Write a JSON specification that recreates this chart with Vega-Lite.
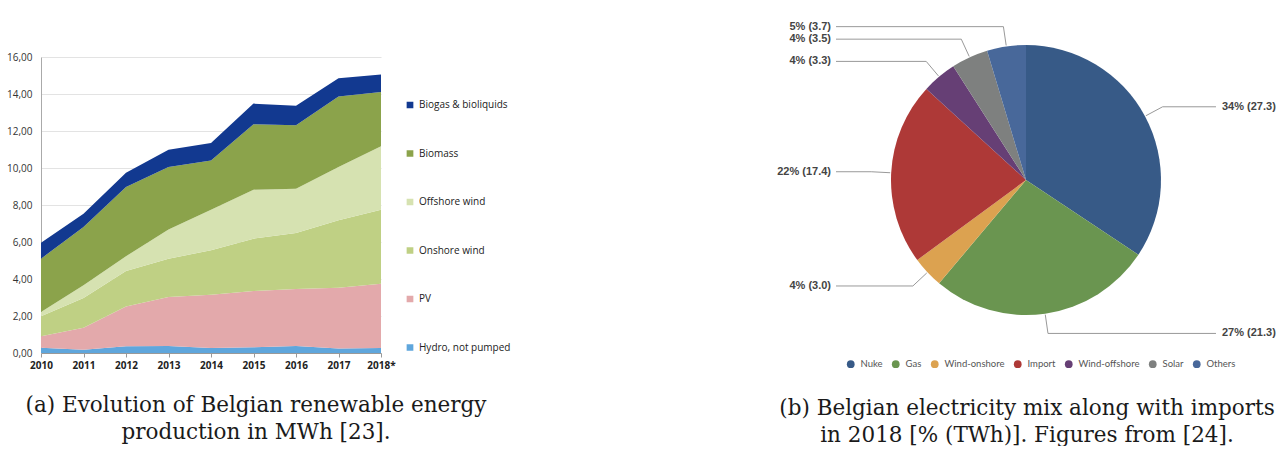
{
  "$schema": "https://vega.github.io/schema/vega-lite/v6.json",
  "padding": {"left": 6, "top": 20, "right": 0, "bottom": 0},
  "bounds": "flush",
  "spacing": 445,
  "resolve": {"scale": {"color": "independent"}, "legend": {"color": "independent"}},
  "config": {"view": {"stroke": null}, "font": "Open Sans"},
  "hconcat": [
    {
      "width": 340,
      "height": 296,
      "data": {"values": [
        {"year": "2010", "src": "Hydro, not pumped", "v": 0.29, "k": 1},
        {"year": "2011", "src": "Hydro, not pumped", "v": 0.18, "k": 1},
        {"year": "2012", "src": "Hydro, not pumped", "v": 0.36, "k": 1},
        {"year": "2013", "src": "Hydro, not pumped", "v": 0.38, "k": 1},
        {"year": "2014", "src": "Hydro, not pumped", "v": 0.27, "k": 1},
        {"year": "2015", "src": "Hydro, not pumped", "v": 0.31, "k": 1},
        {"year": "2016", "src": "Hydro, not pumped", "v": 0.38, "k": 1},
        {"year": "2017", "src": "Hydro, not pumped", "v": 0.25, "k": 1},
        {"year": "2018*", "src": "Hydro, not pumped", "v": 0.27, "k": 1},
        {"year": "2010", "src": "PV", "v": 0.61, "k": 2},
        {"year": "2011", "src": "PV", "v": 1.19, "k": 2},
        {"year": "2012", "src": "PV", "v": 2.16, "k": 2},
        {"year": "2013", "src": "PV", "v": 2.65, "k": 2},
        {"year": "2014", "src": "PV", "v": 2.88, "k": 2},
        {"year": "2015", "src": "PV", "v": 3.04, "k": 2},
        {"year": "2016", "src": "PV", "v": 3.08, "k": 2},
        {"year": "2017", "src": "PV", "v": 3.28, "k": 2},
        {"year": "2018*", "src": "PV", "v": 3.48, "k": 2},
        {"year": "2010", "src": "Onshore wind", "v": 1.08, "k": 3},
        {"year": "2011", "src": "Onshore wind", "v": 1.60, "k": 3},
        {"year": "2012", "src": "Onshore wind", "v": 1.91, "k": 3},
        {"year": "2013", "src": "Onshore wind", "v": 2.07, "k": 3},
        {"year": "2014", "src": "Onshore wind", "v": 2.40, "k": 3},
        {"year": "2015", "src": "Onshore wind", "v": 2.83, "k": 3},
        {"year": "2016", "src": "Onshore wind", "v": 3.03, "k": 3},
        {"year": "2017", "src": "Onshore wind", "v": 3.64, "k": 3},
        {"year": "2018*", "src": "Onshore wind", "v": 4.00, "k": 3},
        {"year": "2010", "src": "Offshore wind", "v": 0.24, "k": 4},
        {"year": "2011", "src": "Offshore wind", "v": 0.69, "k": 4},
        {"year": "2012", "src": "Offshore wind", "v": 0.80, "k": 4},
        {"year": "2013", "src": "Offshore wind", "v": 1.58, "k": 4},
        {"year": "2014", "src": "Offshore wind", "v": 2.20, "k": 4},
        {"year": "2015", "src": "Offshore wind", "v": 2.65, "k": 4},
        {"year": "2016", "src": "Offshore wind", "v": 2.39, "k": 4},
        {"year": "2017", "src": "Offshore wind", "v": 2.88, "k": 4},
        {"year": "2018*", "src": "Offshore wind", "v": 3.42, "k": 4},
        {"year": "2010", "src": "Biomass", "v": 2.88, "k": 5},
        {"year": "2011", "src": "Biomass", "v": 3.15, "k": 5},
        {"year": "2012", "src": "Biomass", "v": 3.74, "k": 5},
        {"year": "2013", "src": "Biomass", "v": 3.37, "k": 5},
        {"year": "2014", "src": "Biomass", "v": 2.66, "k": 5},
        {"year": "2015", "src": "Biomass", "v": 3.53, "k": 5},
        {"year": "2016", "src": "Biomass", "v": 3.43, "k": 5},
        {"year": "2017", "src": "Biomass", "v": 3.82, "k": 5},
        {"year": "2018*", "src": "Biomass", "v": 2.94, "k": 5},
        {"year": "2010", "src": "Biogas & bioliquids", "v": 0.86, "k": 6},
        {"year": "2011", "src": "Biogas & bioliquids", "v": 0.72, "k": 6},
        {"year": "2012", "src": "Biogas & bioliquids", "v": 0.78, "k": 6},
        {"year": "2013", "src": "Biogas & bioliquids", "v": 0.94, "k": 6},
        {"year": "2014", "src": "Biogas & bioliquids", "v": 0.94, "k": 6},
        {"year": "2015", "src": "Biogas & bioliquids", "v": 1.12, "k": 6},
        {"year": "2016", "src": "Biogas & bioliquids", "v": 1.06, "k": 6},
        {"year": "2017", "src": "Biogas & bioliquids", "v": 0.98, "k": 6},
        {"year": "2018*", "src": "Biogas & bioliquids", "v": 0.95, "k": 6}
      ]},
      "mark": {"type": "area", "opacity": 1},
      "encoding": {
        "x": {
          "field": "year", "type": "ordinal",
          "scale": {"type": "point", "padding": 0},
          "axis": {"title": null, "labelAngle": 0, "labelFont": "Open Sans", "labelFontSize": 10, "labelFontWeight": "bold", "labelColor": "#222", "domainColor": "#999", "tickColor": "#999", "tickSize": 4, "labelPadding": 3, "grid": false}
        },
        "y": {
          "field": "v", "type": "quantitative", "stack": "zero",
          "scale": {"domain": [0, 16], "nice": false},
          "axis": {"title": null, "values": [0, 2, 4, 6, 8, 10, 12, 14, 16], "labelExpr": "replace(format(datum.value, '.2f'), '.', ',')", "ticks": false, "labelPadding": 9, "labelFont": "Open Sans", "labelFontSize": 10, "labelColor": "#333", "domainColor": "#aaa", "gridColor": "#e3e3e3"}
        },
        "color": {
          "field": "src", "type": "nominal",
          "scale": {
            "domain": ["Biogas & bioliquids", "Biomass", "Offshore wind", "Onshore wind", "PV", "Hydro, not pumped"],
            "range": ["#123990", "#8ba34b", "#d6e2b1", "#bfd084", "#e3a9ab", "#5fa6dc"]
          },
          "legend": {"title": null, "orient": "none", "direction": "vertical", "legendX": 364, "legendY": 43, "symbolType": "square", "symbolSize": 45, "symbolStrokeWidth": 0, "symbolOpacity": 1, "labelFont": "Open Sans", "labelFontSize": 10, "labelColor": "#222", "labelOffset": 4, "rowPadding": 38.5, "clipHeight": 10, "padding": 0}
        },
        "order": {"field": "k", "type": "quantitative"}
      },
      "title": {"text": ["(a) Evolution of Belgian renewable energy", "production in MWh [23]."], "orient": "bottom", "anchor": "middle", "font": "DejaVu Serif", "fontSize": 21.5, "fontWeight": "normal", "color": "#1a1a1a", "lineHeight": 26.5, "offset": 25, "dx": 45}
    },
    {
      "width": 400,
      "height": 246,
      "data": {"values": [
        {"cat": "Nuke", "twh": 27.3, "lab": "34% (27.3)", "i": 1},
        {"cat": "Gas", "twh": 21.3, "lab": "27% (21.3)", "i": 2},
        {"cat": "Wind-onshore", "twh": 3.0, "lab": "4% (3.0)", "i": 3},
        {"cat": "Import", "twh": 17.4, "lab": "22% (17.4)", "i": 4},
        {"cat": "Wind-offshore", "twh": 3.3, "lab": "4% (3.3)", "i": 5},
        {"cat": "Solar", "twh": 3.5, "lab": "4% (3.5)", "i": 6},
        {"cat": "Others", "twh": 3.7, "lab": "5% (3.7)", "i": 7}
      ]},
      "layer": [
        {
          "mark": {"type": "arc", "radius": 135},
          "encoding": {
            "theta": {"field": "twh", "type": "quantitative", "stack": true},
            "order": {"field": "i", "type": "quantitative"},
            "color": {
              "field": "cat", "type": "nominal",
              "scale": {
                "domain": ["Nuke", "Gas", "Wind-onshore", "Import", "Wind-offshore", "Solar", "Others"],
                "range": ["#375a87", "#6a9550", "#dca250", "#ae3937", "#663f75", "#7e807f", "#48689a"]
              },
              "legend": {"title": null, "orient": "none", "direction": "horizontal", "legendX": 20, "legendY": 302, "symbolType": "circle", "symbolSize": 60, "symbolStrokeWidth": 0, "symbolOpacity": 1, "labelFont": "Lato", "labelFontSize": 9.5, "labelColor": "#555", "labelOffset": 5, "columnPadding": 8, "padding": 0}
            }
          }
        },
        {
          "transform": [
            {"joinaggregate": [{"op": "sum", "field": "twh", "as": "tot"}]},
            {"stack": "twh", "groupby": [], "sort": [{"field": "i", "order": "ascending"}], "as": ["s0", "s1"]}
          ],
          "mark": {"type": "rule", "color": "#999", "strokeWidth": 1},
          "encoding": {
            "x": {"value": {"expr": "200 + 136*sin(PI*(datum.s0+datum.s1)/datum.tot)"}},
            "y": {"value": {"expr": "123 - 136*cos(PI*(datum.s0+datum.s1)/datum.tot)"}},
            "x2": {"value": {"expr": "200 + 155*sin(PI*(datum.s0+datum.s1)/datum.tot)"}},
            "y2": {"value": {"expr": "123 - 155*cos(PI*(datum.s0+datum.s1)/datum.tot)"}}
          }
        },
        {
          "transform": [
            {"joinaggregate": [{"op": "sum", "field": "twh", "as": "tot"}]},
            {"stack": "twh", "groupby": [], "sort": [{"field": "i", "order": "ascending"}], "as": ["s0", "s1"]}
          ],
          "mark": {"type": "rule", "color": "#999", "strokeWidth": 1},
          "encoding": {
            "x": {"value": {"expr": "200 + 155*sin(PI*(datum.s0+datum.s1)/datum.tot)"}},
            "y": {"value": {"expr": "123 - 155*cos(PI*(datum.s0+datum.s1)/datum.tot)"}},
            "x2": {"value": {"expr": "datum.s0+datum.s1 < datum.tot ? 390 : 10"}},
            "y2": {"value": {"expr": "123 - 155*cos(PI*(datum.s0+datum.s1)/datum.tot)"}}
          }
        },
        {
          "transform": [
            {"joinaggregate": [{"op": "sum", "field": "twh", "as": "tot"}]}
          ],
          "mark": {
            "type": "text", "radius": 155, "font": "Liberation Sans", "fontSize": 11, "fontWeight": "bold", "color": "#444", "baseline": "middle",
            "align": {"expr": "datum.twh_start+datum.twh_end < datum.tot ? 'left' : 'right'"},
            "dx": {"expr": "(datum.twh_start+datum.twh_end < datum.tot ? 196 : -195) - 155*sin(PI*(datum.twh_start+datum.twh_end)/datum.tot)"}
          },
          "encoding": {
            "theta": {"field": "twh", "type": "quantitative", "stack": true},
            "order": {"field": "i", "type": "quantitative"},
            "detail": {"field": "cat", "type": "nominal"},
            "text": {"field": "lab", "type": "nominal"}
          }
        }
      ],
      "title": {"text": ["(b) Belgian electricity mix along with imports", "in 2018 [% (TWh)]. Figures from [24]."], "orient": "bottom", "anchor": "middle", "font": "DejaVu Serif", "fontSize": 21.5, "fontWeight": "normal", "color": "#1a1a1a", "lineHeight": 26.5, "offset": 29, "dx": 1}
    }
  ]
}
